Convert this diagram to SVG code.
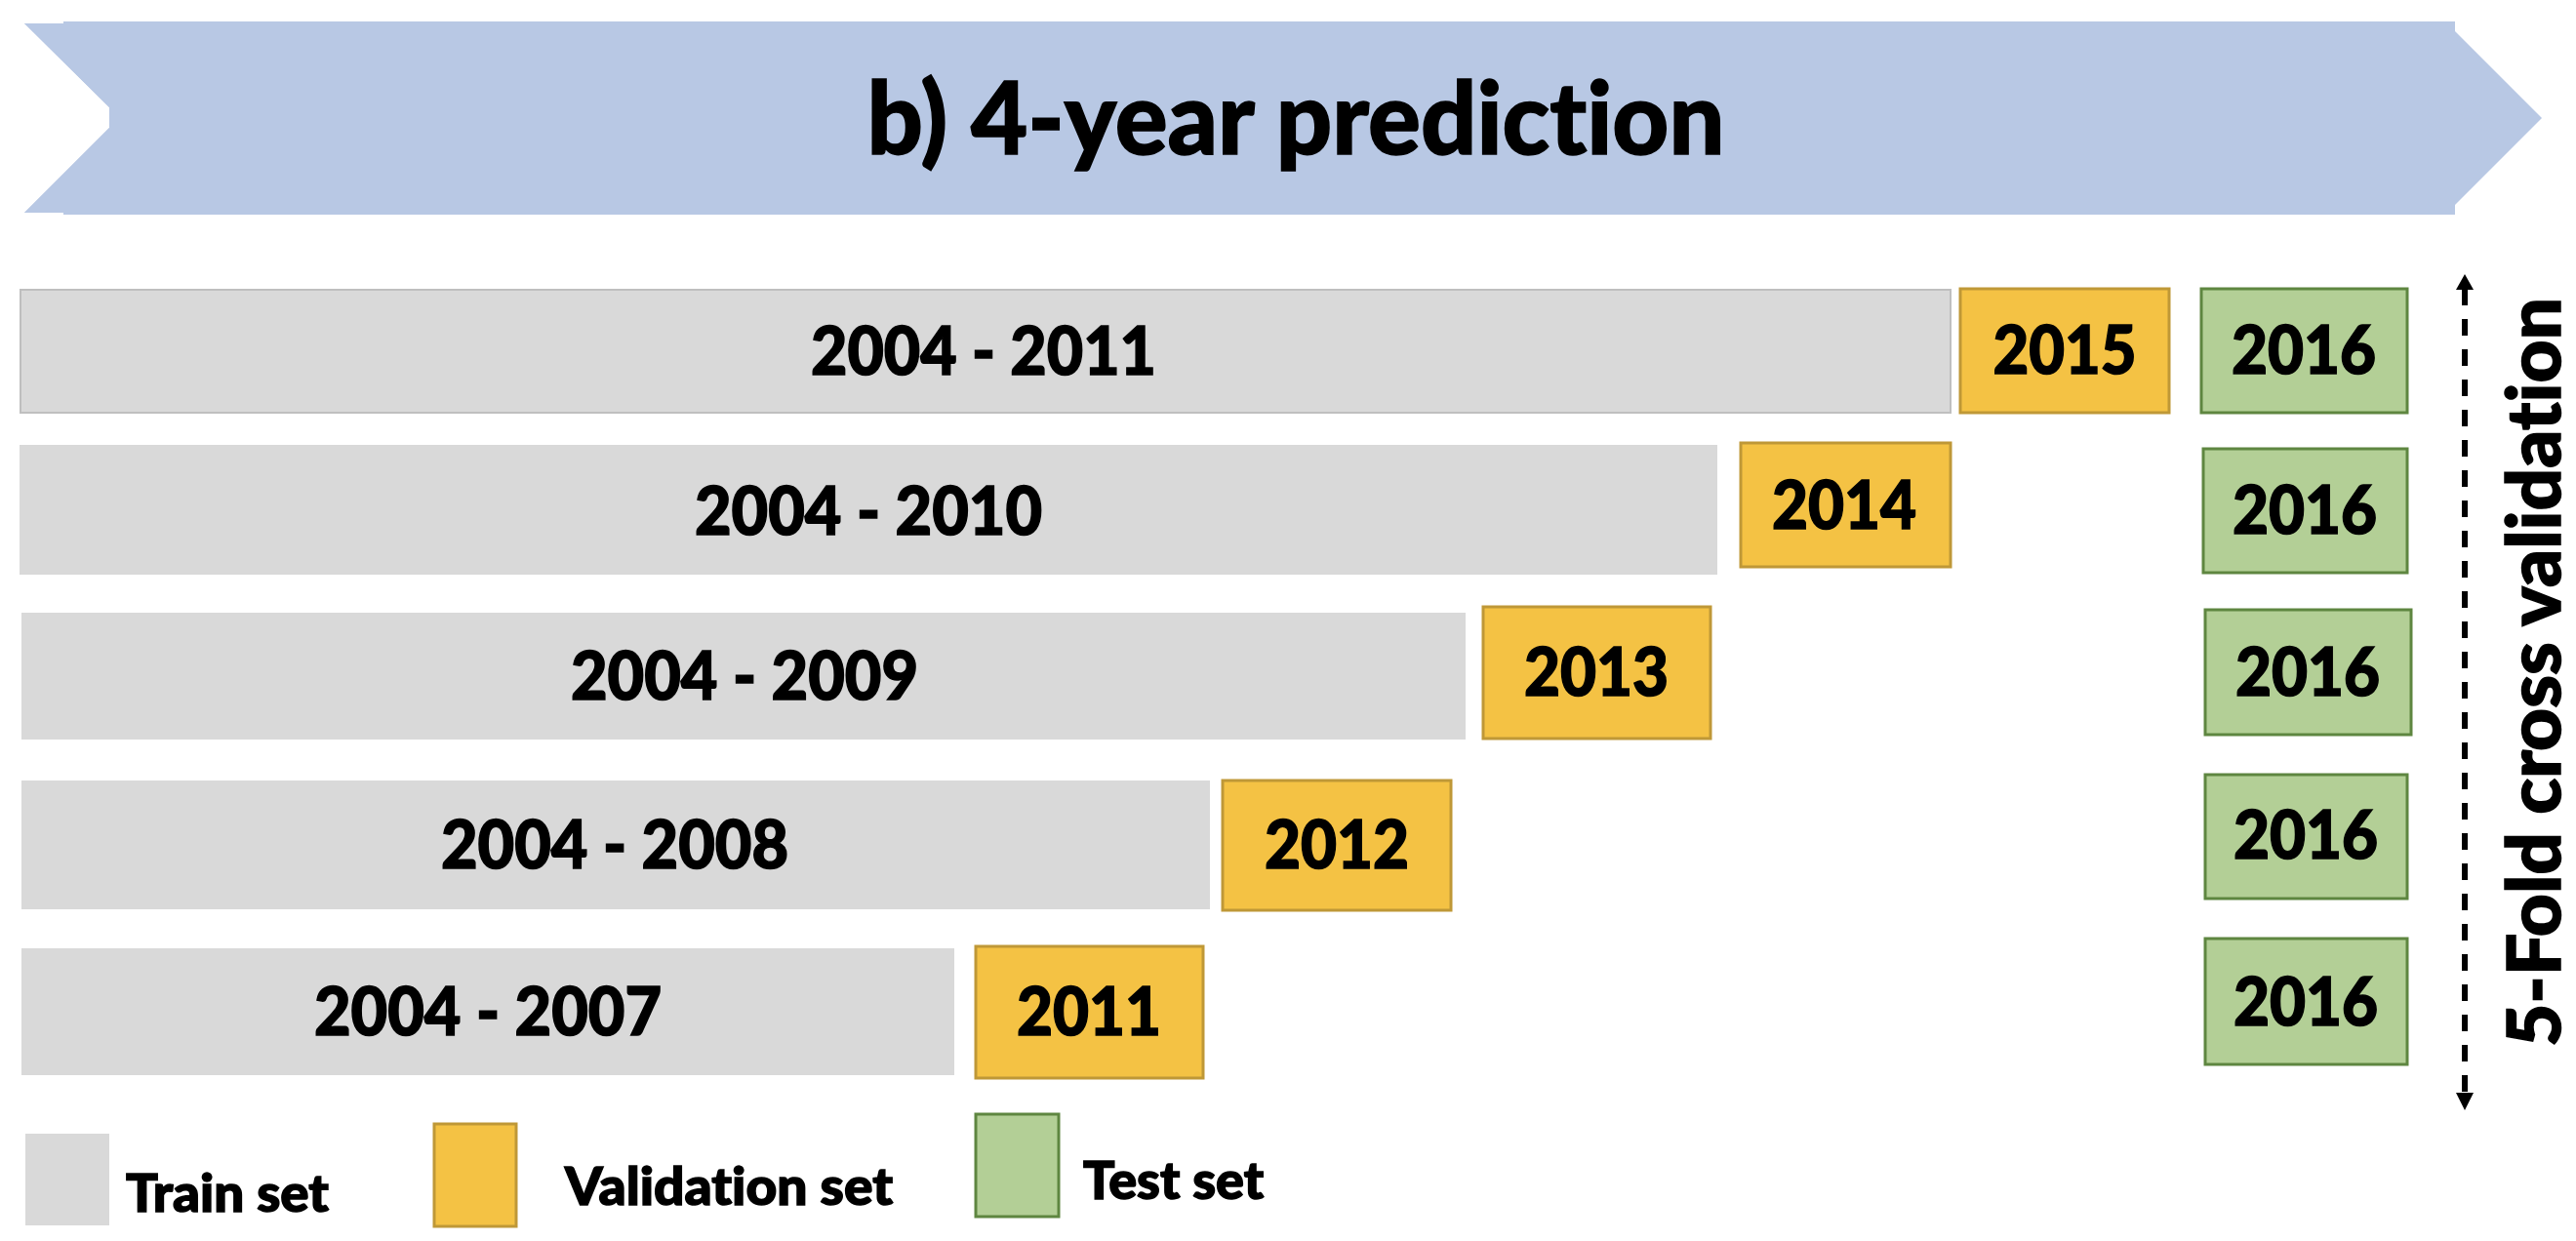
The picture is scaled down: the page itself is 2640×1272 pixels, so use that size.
<svg xmlns="http://www.w3.org/2000/svg" width="2640" height="1272" viewBox="0 0 2640 1272">
<defs>
<style>
.t{font-family:Lato,"Liberation Sans",Arial,sans-serif;font-weight:900;fill:#000;stroke:#000;stroke-width:1.5;font-variant-ligatures:none;font-feature-settings:"liga" 0}
.lbl{font-size:68px;text-anchor:middle}
.leg{font-size:54px}
.train{fill:#D9D9D9}
.val{fill:#F4C244;stroke:#BF9837;stroke-width:3}
.test{fill:#B3CF96;stroke:#5E8640;stroke-width:3}
</style>
</defs>
<rect width="2640" height="1272" fill="#fff"/>
<g id="banner">
<polygon points="25,24 65,24 65,22 2516,22 2516,32 2605,121 2516,210 2516,220 65,220 65,218 25,218 112,131 112,110" fill="#B8C8E4"/>
<polygon points="25,24 112,24 112,218 25,218 112,131 112,110" fill="#B8C8E4"/>
<text class="t" x="1328" y="158" font-size="102" text-anchor="middle" textLength="879" lengthAdjust="spacingAndGlyphs">b) 4-year prediction</text>
</g>
<g id="row1">
<g id="train1"><rect class="train" x="21" y="297" width="1978" height="126" stroke="#BFBFBF" stroke-width="2"/><text class="t lbl" x="1008" y="384" textLength="354" lengthAdjust="spacingAndGlyphs">2004 - 2011</text></g>
<g id="val1"><rect class="val" x="2009" y="296" width="214" height="127"/><text class="t lbl" x="2116" y="383" textLength="147" lengthAdjust="spacingAndGlyphs">2015</text></g>
<g id="test1"><rect class="test" x="2256" y="296" width="211" height="127"/><text class="t lbl" x="2361" y="383" textLength="148" lengthAdjust="spacingAndGlyphs">2016</text></g>
</g>
<g id="row2">
<g id="train2"><rect class="train" x="20" y="456" width="1740" height="133"/><text class="t lbl" x="890" y="548" textLength="356" lengthAdjust="spacingAndGlyphs">2004 - 2010</text></g>
<g id="val2"><rect class="val" x="1784" y="454" width="215" height="127"/><text class="t lbl" x="1890" y="542" textLength="148" lengthAdjust="spacingAndGlyphs">2014</text></g>
<g id="test2"><rect class="test" x="2258" y="460" width="209" height="127"/><text class="t lbl" x="2362" y="547" textLength="148" lengthAdjust="spacingAndGlyphs">2016</text></g>
</g>
<g id="row3">
<g id="train3"><rect class="train" x="22" y="628" width="1480" height="130"/><text class="t lbl" x="763" y="717" textLength="356" lengthAdjust="spacingAndGlyphs">2004 - 2009</text></g>
<g id="val3"><rect class="val" x="1520" y="622" width="233" height="135"/><text class="t lbl" x="1636" y="713" textLength="148" lengthAdjust="spacingAndGlyphs">2013</text></g>
<g id="test3"><rect class="test" x="2260" y="625" width="211" height="128"/><text class="t lbl" x="2365" y="713" textLength="148" lengthAdjust="spacingAndGlyphs">2016</text></g>
</g>
<g id="row4">
<g id="train4"><rect class="train" x="22" y="800" width="1218" height="132"/><text class="t lbl" x="630" y="890" textLength="356" lengthAdjust="spacingAndGlyphs">2004 - 2008</text></g>
<g id="val4"><rect class="val" x="1253" y="800" width="234" height="133"/><text class="t lbl" x="1370" y="890" textLength="148" lengthAdjust="spacingAndGlyphs">2012</text></g>
<g id="test4"><rect class="test" x="2260" y="794" width="207" height="127"/><text class="t lbl" x="2363" y="880" textLength="148" lengthAdjust="spacingAndGlyphs">2016</text></g>
</g>
<g id="row5">
<g id="train5"><rect class="train" x="22" y="972" width="956" height="130"/><text class="t lbl" x="500" y="1061" textLength="356" lengthAdjust="spacingAndGlyphs">2004 - 2007</text></g>
<g id="val5"><rect class="val" x="1000" y="970" width="233" height="135"/><text class="t lbl" x="1116" y="1061" textLength="148" lengthAdjust="spacingAndGlyphs">2011</text></g>
<g id="test5"><rect class="test" x="2260" y="962" width="207" height="129"/><text class="t lbl" x="2363" y="1051" textLength="148" lengthAdjust="spacingAndGlyphs">2016</text></g>
</g>
<g id="connectors">
<line x1="2526" y1="296" x2="2526" y2="1122" stroke="#000" stroke-width="6" stroke-dasharray="17,14"/>
<polygon points="2526,281 2535,297 2517,297" fill="#000"/>
<polygon points="2526,1138 2535,1120 2517,1120" fill="#000"/>
</g>
<g id="cv-label">
<text class="t" transform="translate(2624,689) rotate(-90)" x="0" y="0" font-size="77" text-anchor="middle" textLength="768" lengthAdjust="spacingAndGlyphs">5-Fold cross validation</text>
</g>
<g id="legend">
<g id="leg-train"><rect class="train" x="26" y="1162" width="86" height="94"/><text class="t leg" x="129" y="1242" textLength="208" lengthAdjust="spacingAndGlyphs">Train set</text></g>
<g id="leg-val"><rect class="val" x="445" y="1152" width="84" height="105"/><text class="t leg" x="579" y="1235" textLength="336" lengthAdjust="spacingAndGlyphs">Validation set</text></g>
<g id="leg-test"><rect class="test" x="1000" y="1142" width="85" height="105"/><text class="t leg" x="1110" y="1229" textLength="185" lengthAdjust="spacingAndGlyphs">Test set</text></g>
</g>
</svg>
